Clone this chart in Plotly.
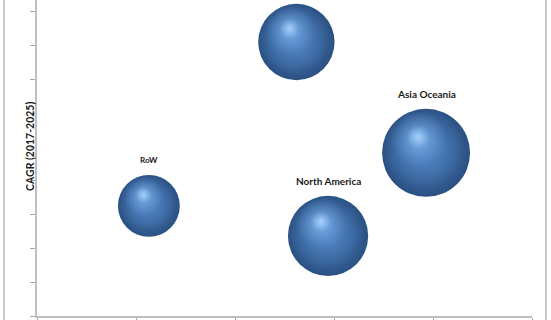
import numpy as np
import plotly.graph_objects as go

# ---- data ----
regions = ["Europe", "Asia Oceania", "North America", "RoW"]
labels = ["", "Asia Oceania", "North America", "RoW"]
market_size = [5.8, 7.7, 6.4, 3.8]       # bubble size value
share_x = [2.62, 3.93, 2.94, 1.13]       # x-axis value
cagr_y = [8.11, 4.83, 2.37, 3.26]        # CAGR (2017-2025)
x_ticks = [0, 1, 2, 3, 4, 5]
y_ticks = list(range(0, 10))

# ---- layout constants ----
W, H = 551, 320
ML, MR, MT, MB = 37, 19, 0, 4
PW, PH = W - ML - MR, H - MT - MB
XR = [0, 5]
YR = [0, 9.355]
px_x = PW / (XR[1] - XR[0])
px_y = PH / (YR[1] - YR[0])
MAX_D = 88

sizes = np.array(market_size)
diam = MAX_D * np.sqrt(sizes / sizes.max())
r = diam / 2
xs = np.array(share_x)
ys = np.array(cagr_y)

fig = go.Figure()

def layer(scale, dx, dy, edge, center):
    fig.add_trace(go.Scatter(
        x=xs + dx * r / px_x, y=ys - dy * r / px_y,
        mode="markers", hoverinfo="skip", showlegend=False,
        marker=dict(size=diam * scale, color=edge, line=dict(width=0),
                    gradient=dict(type="radial", color=center), opacity=1),
    ))

# base sphere
layer(1.0, 0, 0, "#2b5183", "#4c7fbd")
# mid-tone body
layer(0.92, -0.06, -0.09, "rgba(76,127,189,0)", "#4d82c2")
# soft highlight
layer(0.64, -0.16, -0.30, "rgba(100,150,210,0)", "#7fb3ea")
# hot spot
layer(0.26, -0.18, -0.36, "rgba(140,190,240,0)", "#a6d0f8")

annotations = []
for lx, ly, lr, lt in zip(xs, ys, r, labels):
    if not lt:
        continue
    annotations.append(dict(
        x=lx, y=ly, xref="x", yref="y", text="<b>%s</b>" % lt, showarrow=False,
        yshift=lr + 15, font=dict(family="Lato, Open Sans, sans-serif",
                                   size=8 if lt == "RoW" else 10, color="#1a1a1a"),
    ))

annotations.append(dict(
    x=0, y=(316 - 147) / PH, xref="paper", yref="paper", xshift=-7,
    text="<b>CAGR (2017-2025)</b>", textangle=-90, showarrow=False,
    xanchor="center", yanchor="middle",
    font=dict(family="Lato, Open Sans, sans-serif", size=10.5, color="#1a1a1a"),
))

shapes = [
    dict(type="line", xref="paper", yref="paper", x0=(4 - ML) / PW, x1=(4 - ML) / PW,
         y0=-0.1, y1=1.1, line=dict(color="#c9c9c9", width=2)),
    dict(type="line", xref="paper", yref="paper", x0=(546 - ML) / PW, x1=(546 - ML) / PW,
         y0=-0.1, y1=1.1, line=dict(color="#c9c9c9", width=2)),
]

fig.update_layout(
    width=W, height=H, margin=dict(l=ML, r=MR, t=MT, b=MB),
    plot_bgcolor="white", paper_bgcolor="white",
    annotations=annotations, shapes=shapes,
    xaxis=dict(range=XR, tickvals=x_ticks, showticklabels=False, showgrid=False,
               zeroline=False, showline=True, linecolor="#bfbfbf", linewidth=2,
               ticks="outside", ticklen=5, tickcolor="#a6a6a6", tickwidth=1),
    yaxis=dict(range=YR, tickvals=y_ticks, showticklabels=False, showgrid=False,
               zeroline=False, showline=True, linecolor="#bfbfbf", linewidth=2,
               ticks="outside", ticklen=5, tickcolor="#a6a6a6", tickwidth=1),
)

fig.write_html("out.html")
